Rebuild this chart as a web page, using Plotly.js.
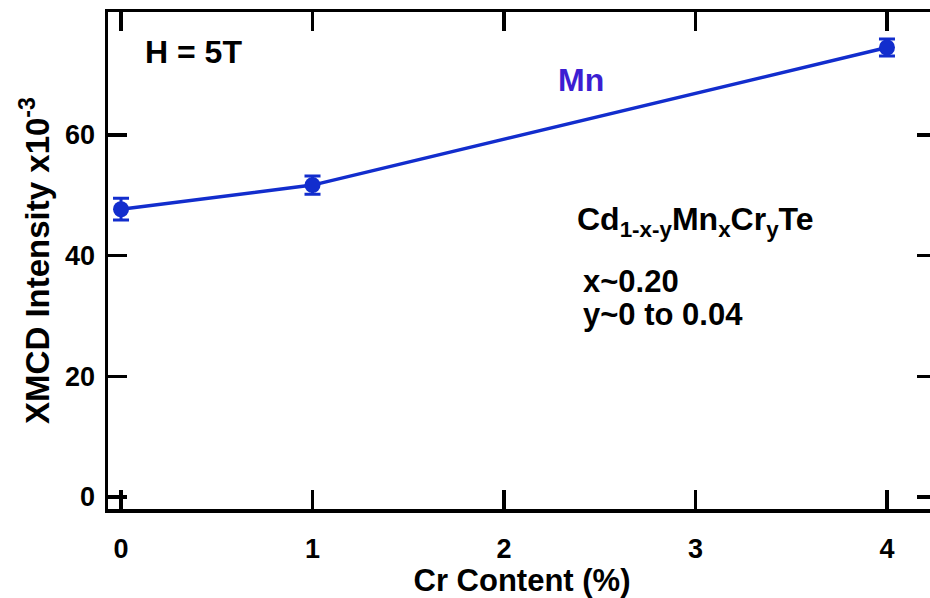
<!DOCTYPE html>
<html>
<head>
<meta charset="utf-8">
<script src="https://cdn.plot.ly/plotly-3.0.1.min.js"></script>
<style>
  html, body { margin: 0; padding: 0; background: #fff; overflow: hidden; }
  #chart { width: 940px; height: 598px; }
</style>
</head>
<body>
<div id="chart"></div>
<script>
// Cr content (%) and Mn XMCD intensity (x10^-3) with error bars
const crContent = [0, 1, 4];
const mnIntensity = [47.7, 51.7, 74.5];
const mnError = [1.8, 1.5, 1.4];
const xTicks = [0, 1, 2, 3, 4];
const yTicks = [0, 20, 40, 60];

const blue = 'rgb(18,45,205)';
const font = 'Liberation Sans, Arial, sans-serif';

const trace = {
  x: crContent,
  y: mnIntensity,
  type: 'scatter',
  mode: 'lines+markers',
  line: { color: blue, width: 3.5 },
  marker: { color: blue, size: 16 },
  error_y: { type: 'data', array: mnError, visible: true, color: blue, thickness: 3, width: 8 },
  showlegend: false,
  hoverinfo: 'none'
};

const axisCommon = {
  showline: true, linecolor: '#000', linewidth: 3.5,
  ticks: 'inside', ticklen: 19, tickwidth: 3.5, tickcolor: '#000',
  mirror: 'ticks', showgrid: false, zeroline: false,
  tickfont: { family: font, size: 27, color: '#000', weight: 'bold' }
};

const layout = {
  width: 940, height: 598,
  margin: { l: 108, r: 4, t: 12, b: 89 },
  paper_bgcolor: '#fff', plot_bgcolor: '#fff',
  xaxis: Object.assign({}, axisCommon, {
    range: [-0.068, 4.256],
    tickmode: 'array', tickvals: xTicks, ticktext: xTicks.map(String),
    ticklabelstandoff: 13,
    title: { text: 'Cr Content (%)', font: { family: font, size: 31, color: '#000', weight: 'bold' }, standoff: 9 }
  }),
  yaxis: Object.assign({}, axisCommon, {
    range: [-1.99, 80.39],
    tickmode: 'array', tickvals: yTicks, ticktext: yTicks.map(String),
    ticklabelstandoff: 4,
    title: { text: 'XMCD Intensity x10<sup>-3</sup>', font: { family: font, size: 33, color: '#000', weight: 'bold' }, standoff: 6 }
  }),
  annotations: [
    { x: 0.38, y: 73.8, xref: 'x', yref: 'y', text: 'H = 5T', showarrow: false,
      font: { family: font, size: 32, color: '#000', weight: 'bold' } },
    { x: 2.40, y: 69.1, xref: 'x', yref: 'y', text: 'Mn', showarrow: false,
      font: { family: font, size: 32, color: 'rgb(60,30,210)', weight: 'bold' } },
    { x: 2.37, y: 45.6, xref: 'x', yref: 'y', xanchor: 'left',
      text: 'Cd<sub>1-x-y</sub>Mn<sub>x</sub>Cr<sub>y</sub>Te', showarrow: false,
      font: { family: font, size: 32, color: '#000', weight: 'bold' } },
    { x: 2.40, y: 35.8, xref: 'x', yref: 'y', xanchor: 'left', text: 'x~0.20', showarrow: false,
      font: { family: font, size: 31, color: '#000', weight: 'bold' } },
    { x: 2.40, y: 30.2, xref: 'x', yref: 'y', xanchor: 'left', text: 'y~0 to 0.04', showarrow: false,
      font: { family: font, size: 31, color: '#000', weight: 'bold' } }
  ]
};

Plotly.newPlot('chart', [trace], layout, { displayModeBar: false, staticPlot: true });
</script>
</body>
</html>
